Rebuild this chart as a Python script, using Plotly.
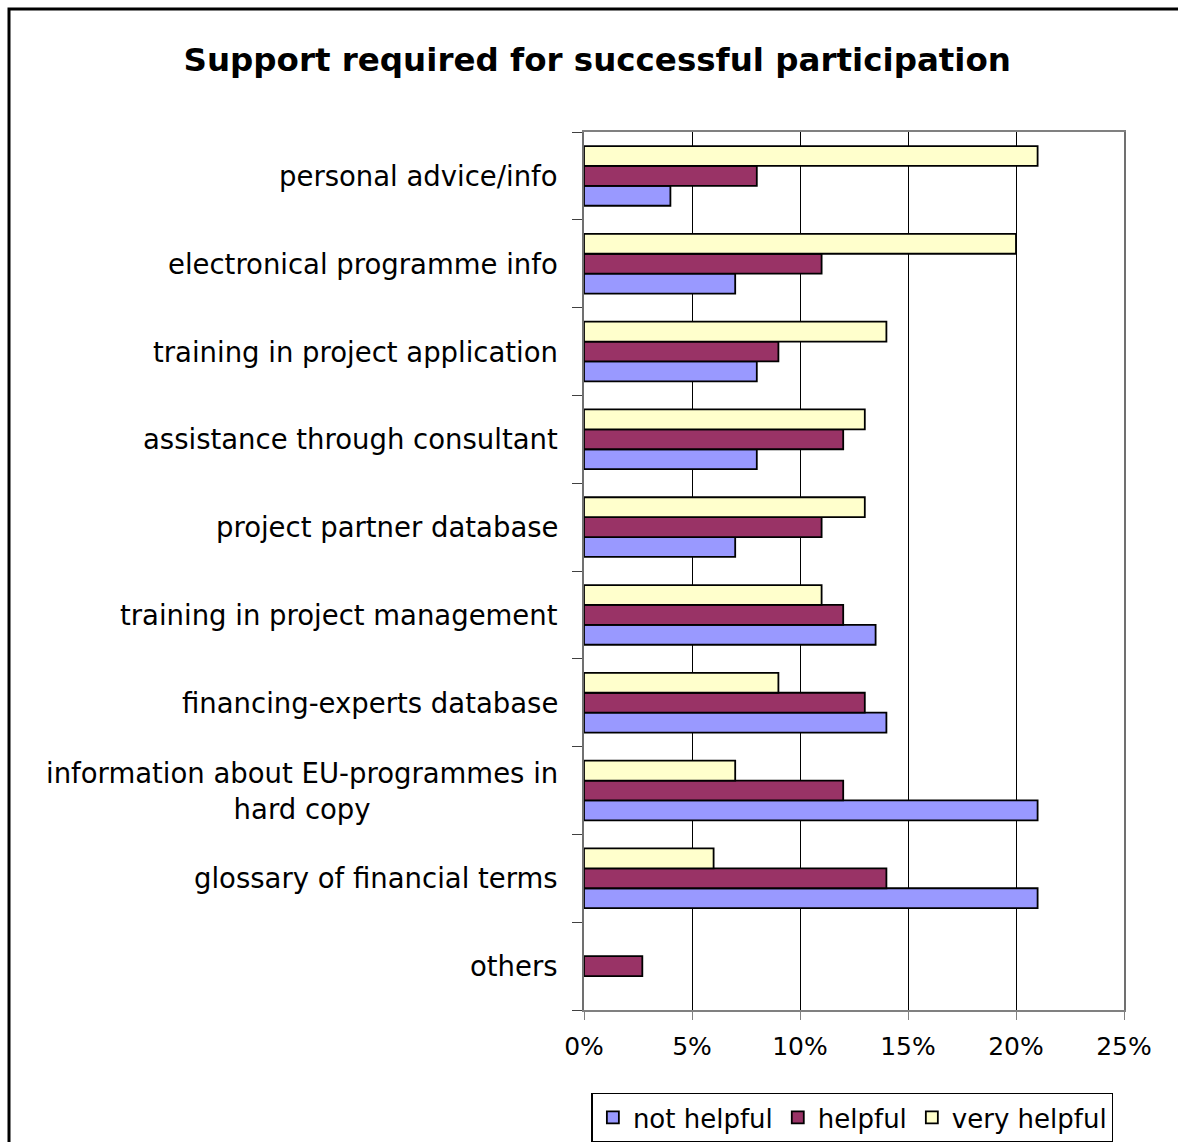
import plotly.graph_objects as go

# Support measures, listed top to bottom
categories = [
    "personal advice/info",
    "electronical programme info",
    "training in project application",
    "assistance through consultant",
    "project partner database",
    "training in project management",
    "financing-experts database",
    "information about EU-programmes in<br>hard copy",
    "glossary of financial terms",
    "others",
]

# Share of responses (%); None = no answer in that class
not_helpful = [4, 7, 8, 8, 7, 13.5, 14, 21, 21, None]
helpful = [8, 11, 9, 12, 11, 12, 13, 12, 14, 2.7]
very_helpful = [21, 20, 14, 13, 13, 11, 9, 7, 6, None]

x_ticks = [0, 5, 10, 15, 20, 25]
x_tick_labels = ["0%", "5%", "10%", "15%", "20%", "25%"]

FONT = "DejaVu Sans, Liberation Sans, Arial, sans-serif"

# bottom-to-top order so the first category sits at the top
cat_order = categories[::-1]

series = [
    ("not helpful", not_helpful, "#9999FF"),
    ("helpful", helpful, "#993366"),
    ("very helpful", very_helpful, "#FFFFCC"),
]

fig = go.Figure()
for name, vals, color in series:
    fig.add_trace(
        go.Bar(
            name=name,
            y=categories,
            x=vals,
            orientation="h",
            marker=dict(color=color, line=dict(color="black", width=1.8)),
        )
    )

# category labels drawn as centred multi-line text beside the axis
for cat in categories:
    fig.add_annotation(
        x=0,
        xref="paper",
        y=cat,
        yref="y",
        text=cat,
        showarrow=False,
        xanchor="right",
        yanchor="middle",
        xshift=-24,
        align="center",
        font=dict(family=FONT, size=27.5, color="black"),
    )

# outer frame around the whole chart
fig.add_shape(
    type="rect",
    xref="paper",
    yref="paper",
    x0=-575 / 540,
    x1=1.2,
    y0=-0.2,
    y1=1 + 123 / 878,
    line=dict(color="black", width=3),
    fillcolor="rgba(0,0,0,0)",
    layer="below",
)

fig.update_layout(
    width=1178,
    height=1142,
    margin=dict(l=584, r=54, t=132, b=132, autoexpand=False),
    paper_bgcolor="white",
    plot_bgcolor="white",
    barmode="group",
    bargap=0.32,
    bargroupgap=0,
    title=dict(
        text="<b>Support required for successful participation</b>",
        x=0.507,
        xref="container",
        xanchor="center",
        y=1 - 60 / 1142,
        yref="container",
        yanchor="middle",
        font=dict(family=FONT, size=32.5, color="black"),
    ),
    font=dict(family=FONT, size=24, color="black"),
    showlegend=True,
    legend=dict(
        orientation="h",
        x=0.497,
        xanchor="center",
        y=-0.094,
        yanchor="top",
        bordercolor="black",
        borderwidth=1.5,
        font=dict(family=FONT, size=26, color="black"),
        itemwidth=30,
        tracegroupgap=0,
    ),
    xaxis=dict(
        range=[0, 25],
        tickvals=x_ticks,
        ticktext=x_tick_labels,
        showgrid=True,
        gridcolor="black",
        gridwidth=1,
        showline=True,
        linecolor="#808080",
        linewidth=2,
        mirror=True,
        ticks="outside",
        ticklen=8,
        tickcolor="#808080",
        ticklabelstandoff=5,
        tickfont=dict(family=FONT, size=25, color="black"),
        zeroline=False,
        fixedrange=True,
    ),
    yaxis=dict(
        type="category",
        categoryorder="array",
        categoryarray=cat_order,
        showticklabels=False,
        tickson="boundaries",
        ticks="outside",
        ticklen=10,
        tickcolor="#404040",
        showgrid=False,
        showline=True,
        linecolor="#707070",
        linewidth=2,
        mirror=True,
        fixedrange=True,
    ),
)

fig.write_html("out.html")
